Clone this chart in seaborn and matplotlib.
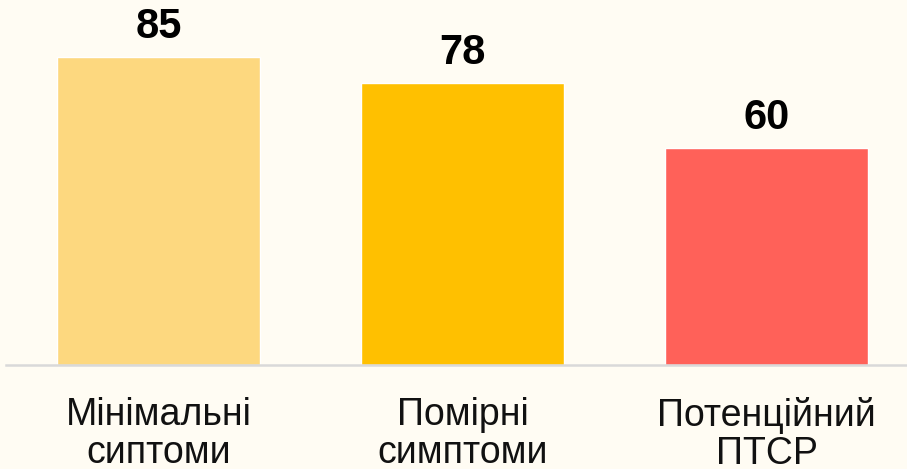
import pandas as pd
import seaborn as sns
import matplotlib.pyplot as plt

# chart data
categories = ["Мінімальні\nсиптоми", "Помірні\nсимптоми", "Потенційний\nПТСР"]
values = [85, 78, 60]
colors = ["#FDD87F", "#FFC000", "#FF6159"]

df = pd.DataFrame({"category": categories, "value": values})

sns.set_style("white")
plt.rcParams["font.family"] = ["Liberation Sans", "DejaVu Sans"]

bg = "#FFFCF3"
fig = plt.figure(figsize=(9.07, 4.69), dpi=100, facecolor=bg)
ax = fig.add_axes([6 / 907, 1 - 365 / 469, 901 / 907, 365 / 469])
ax.set_facecolor(bg)

sns.barplot(data=df, x="category", y="value", hue="category",
            palette=colors, width=0.668, legend=False, ax=ax, saturation=1)

ax.set_xlim(-0.502, 2.462)
ax.set_ylim(0, 100.8)

# value labels on top of bars
for i, v in enumerate(values):
    ax.annotate(str(v), (i, v), xytext=(0, 7), textcoords="offset points",
                ha="center", va="bottom", fontsize=30, fontweight="bold",
                color="black")

for side in ["left", "right", "top"]:
    ax.spines[side].set_visible(False)
ax.spines["bottom"].set_color("#D9D9D9")
ax.spines["bottom"].set_linewidth(1.8)

ax.set_yticks([])
ax.set_xlabel("")
ax.set_ylabel("")
ax.tick_params(axis="x", length=0, pad=23, labelsize=27, labelcolor="#111111")
for lbl in ax.get_xticklabels():
    lbl.set_linespacing(1.08)
    lbl.set_va("top")

fig.savefig("out.png", dpi=100, facecolor=bg)
